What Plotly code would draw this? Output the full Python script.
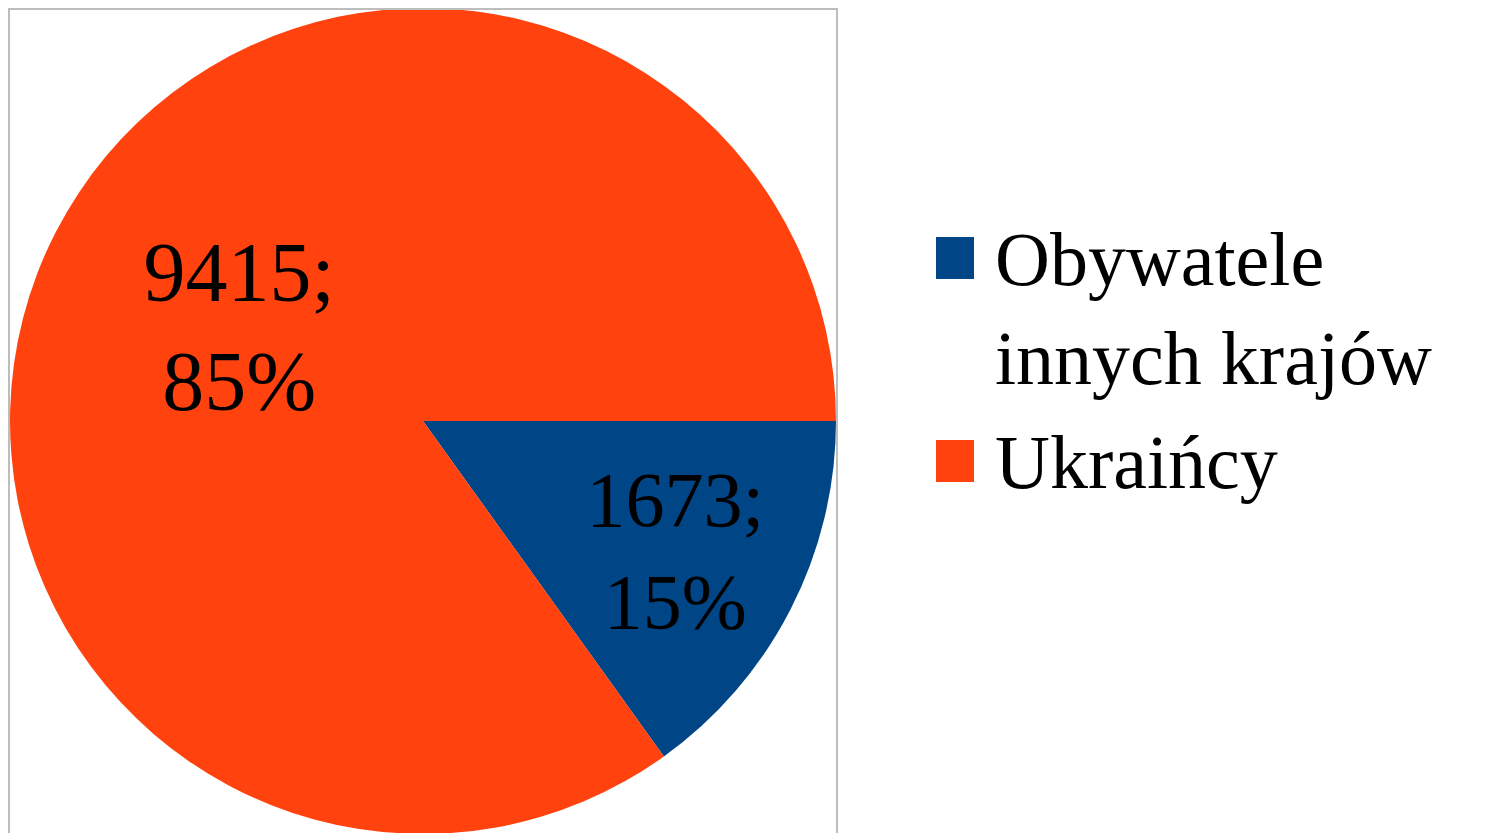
import plotly.graph_objects as go

labels = ["Obywatele innych krajów", "Ukraińcy"]
legend_text = ["Obywatele<br>innych krajów", "Ukraińcy"]
values = [1673, 9415]
colors = ["#004586", "#ff420e"]

W, H = 1505, 833
OFF = 8  # page body margin offset
FONT = "Liberation Serif, Times New Roman, serif"
FS_LABEL = 84
FS_LEGEND = 76

def px(x):
    return (x - OFF) / W

def py(y):
    return 1 - (y - OFF) / H

fig = go.Figure()
fig.add_trace(go.Pie(
    labels=labels,
    values=values,
    marker=dict(colors=colors, line=dict(width=0)),
    sort=False,
    direction="clockwise",
    rotation=90,
    texttemplate="%{value};<br>%{percent:.0%}",
    textposition="inside",
    insidetextorientation="horizontal",
    textfont=dict(family=FONT, size=FS_LABEL, color="black"),
    domain=dict(x=[0, 830 / W], y=[1 - 826 / H, 1]),
    showlegend=False,
    hoverinfo="label+value+percent",
))

shapes = [dict(type="rect", xref="paper", yref="paper",
               x0=1 / W, x1=829 / W, y0=-0.05, y1=1 - 1 / H,
               line=dict(color="#bdbdbd", width=2), fillcolor="rgba(0,0,0,0)",
               layer="above")]
annotations = []
item_y = [258, 461]
for i, (txt, col) in enumerate(zip(legend_text, colors)):
    cy = item_y[i]
    shapes.append(dict(type="rect", xref="paper", yref="paper",
                       x0=px(936), x1=px(974), y0=py(cy + 21), y1=py(cy - 21),
                       fillcolor=col, line=dict(width=0)))
    annotations.append(dict(xref="paper", yref="paper", x=px(993), y=py(cy - 43),
                            xanchor="left", yanchor="top", align="left",
                            text=txt, showarrow=False,
                            font=dict(family=FONT, size=FS_LEGEND, color="black")))

fig.update_layout(
    width=W, height=H, autosize=False,
    margin=dict(l=0, r=0, t=0, b=0),
    paper_bgcolor="white", plot_bgcolor="white",
    shapes=shapes, annotations=annotations,
)

fig.write_html("out.html")
